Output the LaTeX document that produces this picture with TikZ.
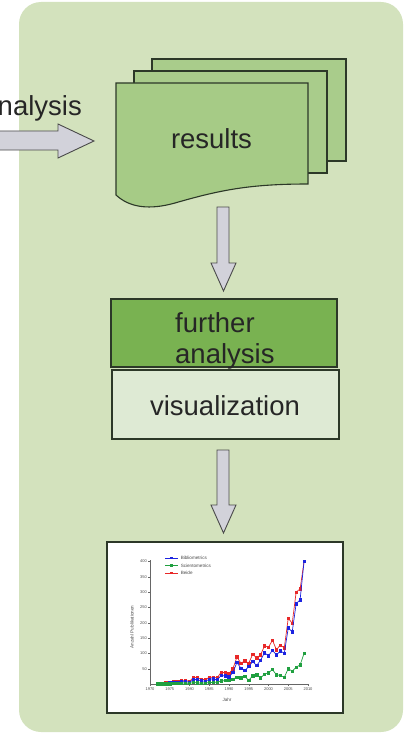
\documentclass[tikz,border=0pt]{standalone}
\usepackage{fontspec}
\setmainfont{Liberation Sans}
\usetikzlibrary{plotmarks}
\definecolor{panelgreen}{HTML}{D3E2BD}
\definecolor{docgreen}{HTML}{A6CB86}
\definecolor{docback}{HTML}{A9CC8B}
\definecolor{darkgreen}{HTML}{79B251}
\definecolor{palegreen}{HTML}{DEEAD4}
\definecolor{arrowgray}{HTML}{D2D2DA}
\definecolor{edgegray}{HTML}{4A4A4A}
\definecolor{boxedge}{HTML}{2C3828}
\definecolor{serblue}{HTML}{1C24E0}
\definecolor{sergreen}{HTML}{20A040}
\definecolor{serred}{HTML}{E82828}
\tikzset{
  bigtext/.style={font=\fontsize{27.5}{31}\selectfont, inner sep=0pt, text=black!85},
  boxstyle/.style={draw=boxedge, line width=1.1pt, rectangle, inner sep=0pt},
  blockarrow/.style={draw=edgegray, fill=arrowgray, line width=0.9pt, line join=miter},
  docstyle/.style={draw=boxedge, line width=1.1pt},
  tiny/.style={font=\fontsize{4}{5}\selectfont, inner sep=0.6pt, text=black!70},
  legtext/.style={font=\fontsize{4.6}{5}\selectfont, inner sep=0.6pt, text=black!70},
  ser/.style={line width=0.7pt, mark=square*, mark size=1.2pt}
}
\begin{document}
\begin{tikzpicture}[x=1pt,y=-1pt]
\useasboundingbox (0,0) rectangle (408,733);
% panel
\fill[panelgreen, rounded corners=22pt] (19,2) rectangle (403,732);
% incoming arrow and label
\node[bigtext, anchor=base east] (antext) at (82,116) {analysis};
\coordinate (intip) at (94,141);
\draw[blockarrow] (-2,131) -- (58,131) -- (58,124) -- (intip) -- (58,158) -- (58,150) -- (-2,150) -- cycle;
% document stack
\draw[docstyle, fill=docback] (152,59) rectangle (346,161);
\draw[docstyle, fill=docback] (134,71) rectangle (327,173);
\draw[docstyle, fill=docgreen] (116,83) -- (308,83) -- (308,184)
   .. controls (250,184) and (220,190) .. (175,203)
   .. controls (150,210) and (130,208) .. (116,195) -- cycle;
\node[bigtext, anchor=base] (results) at (211.5,148) {results};
% arrow 1
\draw[blockarrow] (217,207) -- (229,207) -- (229,263) -- (236,263) -- (223.5,291) -- (211,263) -- (217,263) -- cycle;
% further analysis
\node[boxstyle, fill=darkgreen, minimum width=226pt, minimum height=68pt] (fa) at (224,333) {};
\node[bigtext, anchor=base west] (fa1) at (175,332) {further};
\node[bigtext, anchor=base west] (fa2) at (175,363) {analysis};
% visualization
\node[boxstyle, fill=palegreen, minimum width=227pt, minimum height=69pt] (vis) at (225.5,404.5) {};
\node[bigtext, anchor=base] (vistext) at (225,415) {visualization};
% arrow 2
\draw[blockarrow] (217,450) -- (229,450) -- (229,505) -- (236,505) -- (223.5,533) -- (211,505) -- (217,505) -- cycle;
% chart
\node[boxstyle, fill=white, line width=1.3pt, minimum width=236pt, minimum height=171pt] (chart) at (225,627.5) {};
\begin{scope}[shift={(150,684)}, x=3.95pt, y=0.3065pt]
  \draw[black!60, line width=0.4pt] (0,0) -- (40,0);
  \draw[black!60, line width=0.4pt] (0,0) -- (0,405);
  \foreach \v in {50,100,...,400} {
    \draw[black!60, line width=0.3pt] (0,\v) -- (-0.5,\v);
    \node[tiny, anchor=east] at (-0.6,\v) {\v};
  }
  \foreach \yr in {1970,1975,...,2010} {
    \draw[black!60, line width=0.3pt] ({\yr-1970},0) -- ({\yr-1970},-8);
    \node[tiny, anchor=north] at ({\yr-1970},-9) {\yr};
  }
  \draw[ser, color=serred] plot coordinates {(2,2) (3,3) (4,4) (5,6) (6,8) (7,9) (8,10) (9,12) (10,8) (11,22) (12,20) (13,15) (14,14) (15,22) (16,22) (17,20) (18,38) (19,37) (20,34) (21,50) (22,88) (23,68) (24,75) (25,68) (26,97) (27,85) (28,95) (29,125) (30,120) (31,143) (32,112) (33,127) (34,118) (35,215) (36,198) (37,300) (38,310) (39,400)};
  \draw[ser, color=serblue] plot coordinates {(2,1) (3,2) (4,3) (5,4) (6,5) (7,6) (8,7) (9,8) (10,5) (11,15) (12,14) (13,10) (14,9) (15,15) (16,17) (17,13) (18,28) (19,26) (20,23) (21,38) (22,70) (23,52) (24,44) (25,57) (26,73) (27,60) (28,78) (29,102) (30,92) (31,110) (32,95) (33,108) (34,100) (35,183) (36,170) (37,262) (38,275) (39,400)};
  \draw[ser, color=sergreen] plot coordinates {(2,0) (3,0) (4,1) (5,1) (6,2) (7,2) (8,3) (9,3) (10,2) (11,5) (12,4) (13,3) (14,3) (15,5) (16,5) (17,6) (18,10) (19,11) (20,11) (21,16) (22,22) (23,20) (24,25) (25,12) (26,27) (27,30) (28,20) (29,32) (30,37) (31,47) (32,30) (33,28) (34,22) (35,50) (36,42) (37,55) (38,62) (39,100)};
\end{scope}
% legend
\foreach \yy/\cc in {558/serblue, 565.5/sergreen, 573/serred} {
  \draw[color=\cc, line width=0.7pt] (165,\yy) -- (178,\yy);
  \fill[color=\cc] (170.3,\yy-1.2) rectangle (172.7,\yy+1.2);
}
\node[legtext, anchor=west] (lg1) at (180,558) {Bibliometrics};
\node[legtext, anchor=west] (lg2) at (180,565.5) {Scientometrics};
\node[legtext, anchor=west] (lg3) at (180,573) {Beide};
\node[legtext, rotate=90] (ylab) at (132,627) {Anzahl Publikationen};
\node[legtext] (xlab) at (227,700) {Jahr};
\end{tikzpicture}
\end{document}
